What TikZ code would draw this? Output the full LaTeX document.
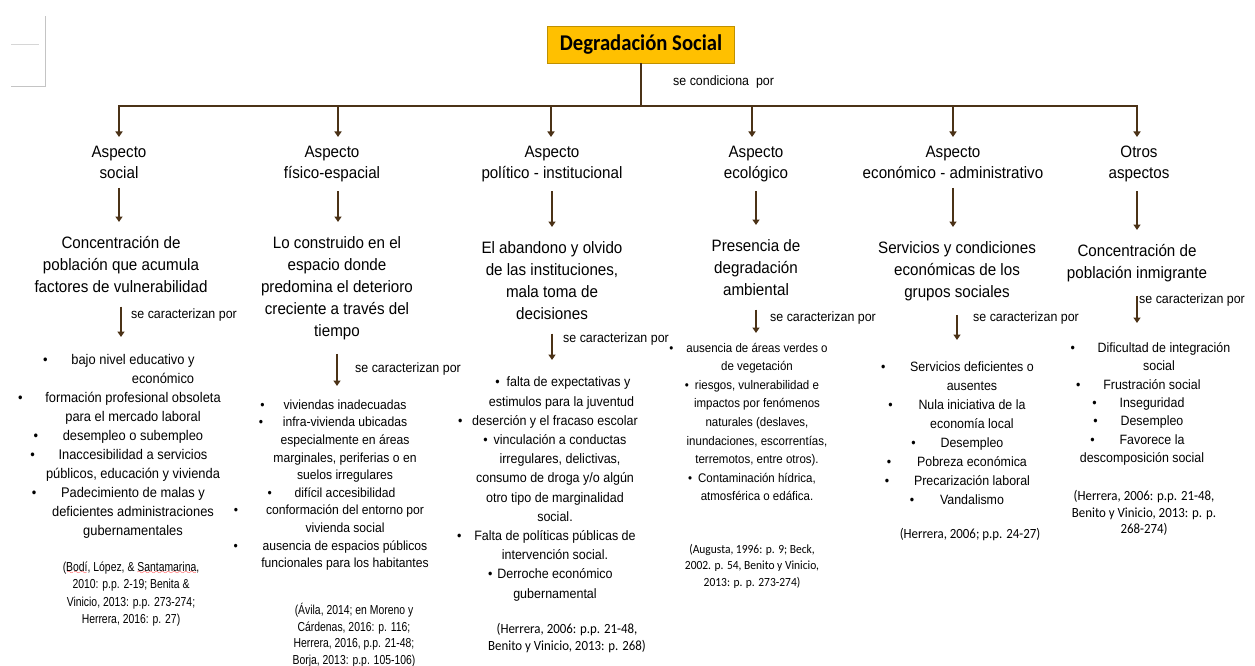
\documentclass[tikz,border=0pt]{standalone}
\usepackage{fontspec}
\setmainfont{Liberation Sans}[FakeStretch=0.92]
\newfontfamily\calfont{Carlito}[FakeStretch=0.92]
\newfontfamily\narrowfont{Liberation Sans}[FakeStretch=0.8]
\usetikzlibrary{arrows.meta}
\definecolor{linebrown}{HTML}{4B3217}
\definecolor{titlefill}{HTML}{FFC000}
\definecolor{titleedge}{HTML}{BF9000}
\definecolor{pagegray}{HTML}{C4C4C4}
\font\wavefont=lasy8
\newcommand{\bpt}[1][26pt]{\llap{\makebox[0pt]{\textbullet}\hspace*{#1}}}
\newcommand{\spell}[1]{\setbox0\hbox{#1}\rlap{\textcolor{red}{\lower3.5pt\hbox to\wd0{\xleaders\hbox{\wavefont\char58}\hfil}}}\box0}

\begin{document}
\begin{tikzpicture}[x=1pt,y=-1pt,
      link/.style={draw=linebrown,line width=1.8pt},
      arr/.style={link,-{Triangle[width=7pt,length=5.5pt]}},
      aspect/.style={align=center,anchor=north,inner ysep=9pt,font=\fontsize{16.5}{21}\selectfont},
      concept/.style={align=center,anchor=north,inner ysep=14pt,font=\fontsize{16.5}{22}\selectfont},
      rel/.style={anchor=west,inner sep=0pt,font=\fontsize{13.5}{15}\selectfont},
      items/.style={align=center,anchor=north},
      cite/.style={align=center,inner sep=0pt}]
      \useasboundingbox (0,0) rectangle (1255,666);
      \fill[white] (0,0) rectangle (1255,666);
      \draw[pagegray,line width=1pt] (11,87) -- (45,87) -- (45,16);
      \draw[pagegray!70,line width=0.8pt] (11,44) -- (39,44);

      \node[draw=titleedge,fill=titlefill,line width=0.8pt,minimum width=187pt,minimum height=37pt,inner sep=0pt,
            font=\calfont\bfseries\fontsize{22.5}{24}\selectfont] (title) at (641,44.5) {Degradación Social};
      \coordinate (jn) at (641,106);
      \coordinate (b1) at (119,106);
      \coordinate (b2) at (338,106);
      \coordinate (b3) at (551,106);
      \coordinate (b4) at (752,106);
      \coordinate (b5) at (953,106);
      \coordinate (b6) at (1137,106);
      \draw[link] (title.south) -- (jn);
      \draw[link,line cap=rect] (b1) -- (b6);
      \node[rel] (cond) at (673,82) {se condiciona\ \ por};

      \node[aspect] (asp1) at (119,137) {Aspecto\\social};
      \node[aspect] (asp2) at (332,137) {Aspecto\\físico-espacial};
      \node[aspect] (asp3) at (552,137) {Aspecto\\político - institucional};
      \node[aspect] (asp4) at (756,137) {Aspecto\\ecológico};
      \node[aspect] (asp5) at (953,137) {Aspecto\\económico - administrativo};
      \node[aspect] (asp6) at (1139,137) {Otros\\aspectos};

      \node[concept] (con1) at (121,222) {Concentración de\\población que acumula\\factores de vulnerabilidad};
      \node[concept] (con2) at (337,222) {Lo construido en el\\espacio donde\\predomina el deterioro\\creciente a través del\\tiempo};
      \node[concept] (con3) at (552,227) {El abandono y olvido\\de las instituciones,\\mala toma de\\decisiones};
      \node[concept] (con4) at (756,225) {Presencia de\\degradación\\ambiental};
      \node[concept] (con5) at (957,227) {Servicios y condiciones\\económicas de los\\grupos sociales};
      \node[concept] (con6) at (1137,230) {Concentración de\\población inmigrante};

      \node[rel] (lab1) at (131,315) {se caracterizan por};
      \node[rel] (lab2) at (355,369) {se caracterizan por};
      \node[rel] (lab3) at (563,339) {se caracterizan por};
      \node[rel] (lab4) at (770,318) {se caracterizan por};
      \node[rel] (lab5) at (973,318) {se caracterizan por};
      \node[rel] (lab6) at (1139,300) {se caracterizan por};

      \node[items,font=\fontsize{14}{19}\selectfont,inner ysep=17pt] (itm1) at (133,337) {%
            \bpt bajo nivel educativo y\\
            \hspace*{60pt}económico\\
            \bpt[25pt]formación profesional obsoleta\\
            para el mercado laboral\\
            \bpt[27pt]desempleo o subempleo\\
            \bpt Inaccesibilidad a servicios\\
            públicos, educación y vivienda\\
            \bpt[27pt]Padecimiento de malas y\\
            deficientes administraciones\\
            gubernamentales};
      \node[items,font=\fontsize{13.2}{17.6}\selectfont,inner ysep=13.5pt] (itm2) at (345,386) {%
            \bpt[21pt]viviendas inadecuadas\\
            \bpt[22pt]infra-vivienda ubicadas\\
            especialmente en áreas\\
            marginales, periferias o en\\
            suelos irregulares\\
            \bpt[25pt]difícil accesibilidad\\
            \bpt[30pt]conformación del entorno por\\
            vivienda social\\
            \bpt[27pt]ausencia de espacios públicos\\
            funcionales para los habitantes};
      \node[items,font=\fontsize{13.6}{19.2}\selectfont,inner ysep=16.8pt] (itm3) at (555,360) {%
            \hspace*{27pt}\bpt[9pt]falta de expectativas y\\
            \hspace*{13pt}estimulos para la juventud\\
            \bpt[12pt]deserción y el fracaso escolar\\
            \hspace*{10pt}\bpt[8pt]vinculación a conductas\\
            \hspace*{10pt}irregulares, delictivas,\\
            consumo de droga y/o algún\\
            otro tipo de marginalidad\\
            social.\\
            \bpt[15pt]Falta de políticas públicas de\\
            intervención social.\\
            \bpt[7pt]Derroche económico\hspace*{20pt}\\
            gubernamental};
      \node[items,font=\fontsize{12.5}{18.6}\selectfont,inner ysep=9.7pt] (itm4) at (757,333) {%
            \bpt[15pt]ausencia de áreas verdes o\\
            de vegetación\\
            \bpt[8pt]riesgos, vulnerabilidad e\hspace*{20pt}\\
            impactos por fenómenos\\
            naturales (deslaves,\\
            inundaciones, escorrentías,\\
            terremotos, entre otros).\\
            \bpt[8pt]Contaminación hídrica,\hspace*{24pt}\\
            atmosférica o edáfica.};
      \node[items,font=\fontsize{13.5}{19}\selectfont,inner ysep=21.6pt] (itm5) at (972,340) {%
            \bpt[27pt]Servicios deficientes o\\
            ausentes\\
            \bpt[28pt]Nula iniciativa de la\\
            economía local\\
            \bpt[27pt]Desempleo\\
            \bpt[28pt]Pobreza económica\\
            \bpt[27pt]Precarización laboral\\
            \bpt[28pt]Vandalismo};
      \node[items,font=\fontsize{13.5}{18.3}\selectfont,inner ysep=19.5pt] (itm6) at (1152,323) {%
            \hspace*{24pt}\bpt[25pt]Dificultad de integración\\
            \hspace*{14pt}social\\
            \bpt[25pt]Frustración social\\
            \bpt[25pt]Inseguridad\\
            \bpt[25pt]Desempleo\\
            \bpt[27pt]Favorece la\\
            descomposición social\hspace*{20pt}};

      \draw[arr] (b1) -- (b1 |- asp1.north);
      \draw[arr] (b2) -- (b2 |- asp2.north);
      \draw[arr] (b3) -- (b3 |- asp3.north);
      \draw[arr] (b4) -- (b4 |- asp4.north);
      \draw[arr] (b5) -- (b5 |- asp5.north);
      \draw[arr] (b6) -- (b6 |- asp6.north);
      \draw[arr] (asp1.south) -- (asp1.south |- con1.north);
      \draw[arr] (b2 |- asp2.south) -- (b2 |- con2.north);
      \draw[arr] (asp3.south) -- (asp3.south |- con3.north);
      \draw[arr] (asp4.south) -- (asp4.south |- con4.north);
      \draw[arr] (asp5.south) -- (asp5.south |- con5.north);
      \draw[arr] (b6 |- asp6.south) -- (b6 |- con6.north);
      \draw[arr] (con1.south) -- (con1.south |- itm1.north);
      \draw[arr] (con2.south) -- (con2.south |- itm2.north);
      \draw[arr] (con3.south) -- (con3.south |- itm3.north);
      \draw[arr] (con4.south) -- (con4.south |- itm4.north);
      \draw[arr] (con5.south) -- (con5.south |- itm5.north);
      \draw[arr] (b6 |- con6.south) -- (b6 |- itm6.north);

      \node[cite,font=\narrowfont\fontsize{13}{17.5}\selectfont] (ref1) at (131,594) {(\spell{Bodí}, López, \& \spell{Santamarina},\\2010: p.p. 2-19; Benita \&\\Vinicio, 2013: p.p. 273-274;\\Herrera, 2016: p. 27)};
      \node[cite,font=\narrowfont\fontsize{13}{16.5}\selectfont] (ref2) at (354,635) {(Ávila, 2014; en Moreno y\\Cárdenas, 2016: p. 116;\\Herrera, 2016, p.p. 21-48;\\Borja, 2013: p.p. 105-106)};
      \node[cite,font=\calfont\fontsize{14}{17}\selectfont] (ref3) at (567,638) {(Herrera, 2006: p.p. 21-48,\\Benito y Vinicio, 2013: p. 268)};
      \node[cite,font=\calfont\fontsize{12.5}{16.5}\selectfont] (ref4) at (752,566) {(Augusta, 1996: p. 9; Beck,\\2002. p. 54, Benito y Vinicio,\\2013: p. p. 273-274)};
      \node[cite,font=\calfont\fontsize{14}{17}\selectfont] (ref5) at (970,535) {(Herrera, 2006; p.p. 24-27)};
      \node[cite,font=\calfont\fontsize{14}{16.5}\selectfont] (ref6) at (1144,513) {(Herrera, 2006: p.p. 21-48,\\Benito y Vinicio, 2013: p. p.\\268-274)};
\end{tikzpicture}
\end{document}
